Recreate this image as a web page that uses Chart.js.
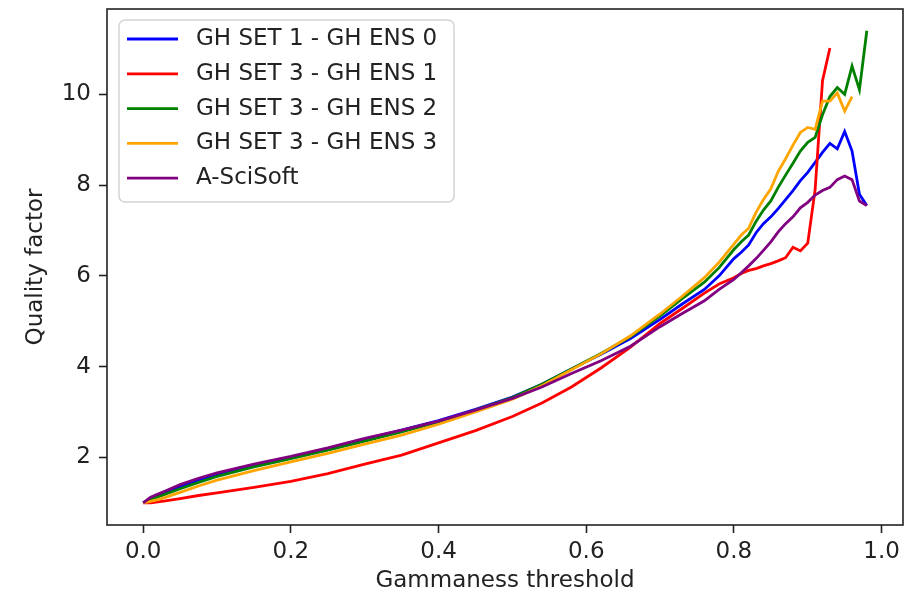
<!DOCTYPE html>
<html><head><meta charset="utf-8">
<script src="https://cdn.jsdelivr.net/npm/chart.js@4.4.1/dist/chart.umd.min.js"></script>
<style>html,body{margin:0;padding:0;background:#fff;} canvas{display:block;}</style>
</head><body>
<canvas id="c" width="912" height="596"></canvas>
<script>
// ---- data ----
const thresholds = [0, 0.01, 0.02, 0.03, 0.05, 0.075, 0.10, 0.15, 0.20, 0.25, 0.30, 0.35, 0.40, 0.45, 0.50, 0.54, 0.58, 0.62, 0.66, 0.70, 0.73, 0.76, 0.78, 0.80,
  0.81, 0.82, 0.83, 0.84, 0.85, 0.86, 0.87, 0.88, 0.89, 0.90, 0.91, 0.92, 0.93, 0.94, 0.95, 0.96, 0.97, 0.98];

const ghSet1Ens0 = [1.00, 1.09, 1.15, 1.21, 1.35, 1.49, 1.62, 1.82, 2.00, 2.19, 2.40, 2.60, 2.81, 3.06, 3.33, 3.61, 3.95, 4.27, 4.62, 5.04, 5.38, 5.70, 6.00, 6.38,
  6.52, 6.68, 6.95, 7.15, 7.30, 7.48, 7.68, 7.88, 8.10, 8.28, 8.50, 8.72, 8.92, 8.80, 9.18, 8.75, 7.80, 7.55];

const ghSet3Ens1 = [1.00, 1.00, 1.02, 1.04, 1.09, 1.16, 1.22, 1.34, 1.47, 1.64, 1.85, 2.05, 2.32, 2.59, 2.90, 3.20, 3.55, 3.97, 4.43, 4.95, 5.28, 5.62, 5.82, 5.96,
  6.05, 6.12, 6.16, 6.22, 6.27, 6.33, 6.40, 6.63, 6.55, 6.72, 7.90, 10.30, 11.02, null, null, null, null, null];

const ghSet3Ens2 = [1.00, 1.08, 1.13, 1.19, 1.31, 1.45, 1.58, 1.79, 1.97, 2.16, 2.36, 2.56, 2.78, 3.04, 3.32, 3.61, 3.95, 4.29, 4.66, 5.12, 5.50, 5.86, 6.18, 6.58,
  6.75, 6.90, 7.20, 7.45, 7.65, 7.95, 8.22, 8.48, 8.75, 8.94, 9.05, 9.55, 9.95, 10.15, 10.00, 10.62, 10.10, 11.40];

const ghSet3Ens3 = [1.00, 1.03, 1.07, 1.12, 1.23, 1.37, 1.50, 1.71, 1.90, 2.09, 2.29, 2.49, 2.73, 3.00, 3.28, 3.58, 3.93, 4.28, 4.68, 5.16, 5.55, 5.96, 6.30, 6.70,
  6.90, 7.05, 7.40, 7.68, 7.92, 8.30, 8.58, 8.88, 9.16, 9.27, 9.23, 9.85, 9.85, 10.03, 9.63, 9.95, null, null];

const aSciSoft = [1.00, 1.12, 1.19, 1.26, 1.40, 1.54, 1.66, 1.85, 2.02, 2.21, 2.42, 2.60, 2.80, 3.04, 3.30, 3.55, 3.85, 4.13, 4.45, 4.88, 5.17, 5.45, 5.70, 5.92,
  6.07, 6.22, 6.38, 6.56, 6.75, 6.97, 7.15, 7.30, 7.50, 7.62, 7.78, 7.88, 7.95, 8.12, 8.20, 8.12, 7.65, 7.55];

const seriesLabels = ['GH SET 1 - GH ENS 0', 'GH SET 3 - GH ENS 1', 'GH SET 3 - GH ENS 2', 'GH SET 3 - GH ENS 3', 'A-SciSoft'];
const seriesValues = [ghSet1Ens0, ghSet3Ens1, ghSet3Ens2, ghSet3Ens3, aSciSoft];
const seriesColors = ['#0000ff', '#ff0000', '#008000', '#ffa500', '#800080'];

const xTicks = [0.0, 0.2, 0.4, 0.6, 0.8, 1.0];
const yTicks = [2, 4, 6, 8, 10];
const xTitle = 'Gammaness threshold';
const yTitle = 'Quality factor';

// ---- style ----
const FAMILY = '"DejaVu Sans", sans-serif';
const FS = 23;
const TXT = '#222';

const datasets = seriesLabels.map((label, i) => ({
  label,
  data: thresholds.map((x, j) => ({ x, y: seriesValues[i][j] })),
  borderColor: seriesColors[i],
  backgroundColor: seriesColors[i],
  borderWidth: 2.8,
  pointRadius: 0,
  tension: 0,
  fill: false,
  order: seriesLabels.length - 1 - i
}));

const framePlugin = {
  id: 'frame',
  afterDatasetsDraw(chart) {
    const ctx = chart.ctx, a = chart.chartArea;
    ctx.save();
    ctx.strokeStyle = TXT;
    ctx.lineWidth = 1.6;
    ctx.strokeRect(a.left, a.top, a.right - a.left, a.bottom - a.top);
    ctx.restore();
  }
};

const legendPlugin = {
  id: 'mplLegend',
  afterDraw(chart) {
    const ctx = chart.ctx, a = chart.chartArea;
    const x0 = a.left + 12, y0 = a.top + 11, w = 335, h = 182, r = 6;
    ctx.save();
    ctx.beginPath();
    ctx.moveTo(x0 + r, y0);
    ctx.lineTo(x0 + w - r, y0); ctx.arcTo(x0 + w, y0, x0 + w, y0 + r, r);
    ctx.lineTo(x0 + w, y0 + h - r); ctx.arcTo(x0 + w, y0 + h, x0 + w - r, y0 + h, r);
    ctx.lineTo(x0 + r, y0 + h); ctx.arcTo(x0, y0 + h, x0, y0 + h - r, r);
    ctx.lineTo(x0, y0 + r); ctx.arcTo(x0, y0, x0 + r, y0, r);
    ctx.closePath();
    ctx.fillStyle = 'rgba(255,255,255,0.8)';
    ctx.fill();
    ctx.strokeStyle = '#d4d4d4';
    ctx.lineWidth = 1.5;
    ctx.stroke();
    ctx.font = FS + 'px ' + FAMILY;
    ctx.textBaseline = 'middle';
    ctx.textAlign = 'left';
    chart.data.datasets.forEach((ds, i) => {
      const y = y0 + 19 + i * 34.8;
      ctx.beginPath();
      ctx.moveTo(x0 + 8, y);
      ctx.lineTo(x0 + 59, y);
      ctx.strokeStyle = ds.borderColor;
      ctx.lineWidth = ds.borderWidth;
      ctx.stroke();
      ctx.fillStyle = TXT;
      ctx.fillText(ds.label, x0 + 77, y);
    });
    ctx.restore();
  }
};

new Chart(document.getElementById('c'), {
  type: 'line',
  data: { datasets },
  options: {
    responsive: false,
    animation: false,
    devicePixelRatio: 1,
    layout: { padding: { left: 0, right: 9, top: 9, bottom: 0 } },
    plugins: { legend: { display: false }, tooltip: { enabled: false } },
    scales: {
      x: {
        type: 'linear', min: -0.049, max: 1.029,
        afterBuildTicks: s => { s.ticks = xTicks.map(v => ({ value: v })); },
        afterFit: s => { s.height = 71; s.paddingLeft = 0; s.paddingRight = 0; },
        ticks: { callback: v => Number(v).toFixed(1), font: { family: FAMILY, size: FS }, color: TXT, padding: 5, maxRotation: 0, autoSkip: false },
        grid: { display: true, drawOnChartArea: false, drawTicks: true, tickLength: 8, tickColor: TXT, tickWidth: 1.6 },
        border: { display: false },
        title: { display: true, text: xTitle, font: { family: FAMILY, size: FS }, color: TXT, padding: { top: 0, bottom: 1 } }
      },
      y: {
        type: 'linear', min: 0.51, max: 11.88,
        afterBuildTicks: s => { s.ticks = yTicks.map(v => ({ value: v })); },
        afterFit: s => { s.width = 107; s.paddingTop = 0; s.paddingBottom = 0; },
        ticks: { callback: v => String(v), font: { family: FAMILY, size: FS }, color: TXT, padding: 8, autoSkip: false },
        grid: { display: true, drawOnChartArea: false, drawTicks: true, tickLength: 8, tickColor: TXT, tickWidth: 1.6 },
        border: { display: false },
        title: { display: true, text: yTitle, font: { family: FAMILY, size: FS }, color: TXT, padding: { top: 22, bottom: 0 } }
      }
    }
  },
  plugins: [framePlugin, legendPlugin]
});
</script>
</body></html>
